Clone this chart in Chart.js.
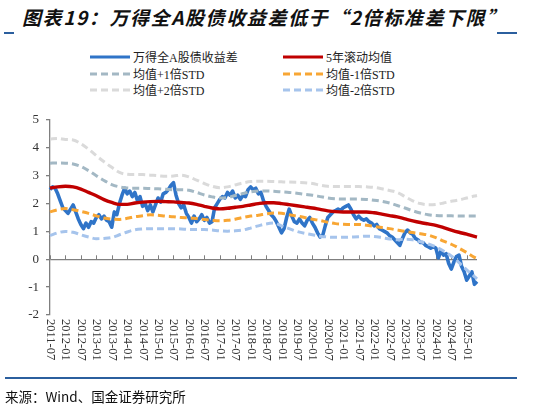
<!DOCTYPE html>
<html>
<head>
<meta charset="utf-8">
<script src="https://cdn.jsdelivr.net/npm/chart.js@4.4.1/dist/chart.umd.min.js"></script>
<style>
body { margin: 0; width: 547px; height: 410px; background: #fff; position: relative; overflow: hidden; }
#title { position: absolute; left: 22px; top: 3px; font: italic bold 19px "Noto Sans CJK SC"; letter-spacing: 1.6px; white-space: nowrap; color: #111; }
.bar { position: absolute; height: 2px; background: #2b5f9e; }
#legend { position: absolute; left: 90px; top: 49px; display: grid; grid-template-columns: 193px 200px; font: 12px "Liberation Serif", "Noto Sans CJK SC"; color: #222; }
.item { display: flex; align-items: center; height: 16.5px; white-space: nowrap; }
.item svg { margin-right: 3px; }
#source { position: absolute; left: 5px; top: 386px; font: 13.5px "Noto Sans CJK SC"; color: #111; white-space: nowrap; }
#wrap { position: absolute; left: 0; top: 0; width: 547px; height: 410px; }
</style>
</head>
<body>
<div id="title">图表19：万得全A股债收益差低于“2倍标准差下限”</div>
<div class="bar" style="left:4px;top:32px;width:10px"></div>
<div class="bar" style="left:497px;top:32px;width:20px"></div>
<div id="legend"></div>
<div id="wrap"><canvas id="chart" width="547" height="410"></canvas></div>
<div class="bar" style="left:5px;top:377px;width:512px"></div>
<div id="source">来源：Wind、国金证券研究所</div>

<script>
// months 2011-07 .. 2025-05
const months = [];
for (let y = 2011, m = 7; y < 2025 || m <= 5; m++) {
    if (m > 12) { m = 1; y++; }
    months.push(y + '-' + String(m).padStart(2, '0'));
}

const tickLabels = ['2011-07','2012-01','2012-07','2013-01','2013-07','2014-01','2014-07','2015-01','2015-07',
    '2016-01','2016-07','2017-01','2017-07','2018-01','2018-07','2019-01','2019-07','2020-01','2020-07',
    '2021-01','2021-07','2022-01','2022-07','2023-01','2023-07','2024-01','2024-07','2025-01'];

// 万得全A股债收益差, monthly
const spread = [
    2.5, 2.6, 2.55, 2.35, 2.1, 1.85,
    1.75, 1.65, 1.8, 1.95, 1.7, 1.45, 1.25, 1.1, 1.3, 1.15, 1.35, 1.3,
    1.5, 1.6, 1.45, 1.55, 1.4, 1.35, 1.15, 1.7, 1.6, 2.0, 2.3, 2.55,
    2.35, 2.45, 2.25, 2.4, 2.1, 2.25, 1.9, 2.0, 1.75, 1.95, 1.7, 1.95,
    2.2, 2.05, 2.35, 2.4, 2.5, 2.65, 2.75, 2.3, 2.0, 1.85, 1.95, 1.65,
    1.5, 1.3, 1.55, 1.35, 1.45, 1.6, 1.4, 1.5, 1.3, 1.35, 1.85, 2.0,
    2.15, 2.25, 2.2, 2.4, 2.3, 2.45, 2.2, 2.3, 2.15, 2.3, 2.25, 2.5,
    2.6, 2.5, 2.55, 2.35, 2.4, 2.1, 1.9, 1.75, 1.6, 1.5, 1.35, 1.15,
    0.95, 1.1, 1.5, 1.8, 1.55, 1.35, 1.3, 1.45, 1.3, 1.2, 1.4, 1.5,
    1.3, 1.15, 0.95, 0.8, 0.85, 1.2, 1.5, 1.6, 1.7, 1.75, 1.8, 1.75,
    1.85, 1.9, 1.95, 1.8, 1.6, 1.45, 1.55, 1.45, 1.4, 1.45, 1.35, 1.3,
    1.2, 1.25, 1.1, 1.05, 1.0, 0.95, 0.85, 0.8, 0.7, 0.6, 0.5, 0.75,
    0.95, 1.05, 0.95, 0.9, 0.75, 0.7, 0.6, 0.6, 0.5, 0.45, 0.4, 0.45,
    0.4, 0.05, 0.3, 0.15, 0.2, -0.15, -0.35, -0.1, 0.1, 0.15, -0.25, -0.45,
    -0.75, -0.6, -0.45, -0.9, -0.8
];

// bands, every 3rd month from 2011-07, last value = 2025-05
const mean5y = [2.56, 2.6, 2.62, 2.6, 2.52, 2.4, 2.28, 2.14, 2.04, 1.97, 1.97, 2.02, 2.05, 2.07, 2.08, 2.07, 2.06, 2.04, 2.02, 1.97,
    1.9, 1.84, 1.81, 1.83, 1.87, 1.9, 1.95, 2.0, 2.03, 2.03, 2.0, 1.96, 1.92, 1.88, 1.84, 1.79, 1.74, 1.71, 1.7, 1.7,
    1.7, 1.7, 1.67, 1.62, 1.57, 1.52, 1.45, 1.38, 1.32, 1.27, 1.22, 1.14, 1.05, 0.97, 0.9, 0.82, 0.8];
const plus1 = [3.45, 3.46, 3.45, 3.42, 3.33, 3.18, 3.0, 2.83, 2.68, 2.6, 2.56, 2.55, 2.55, 2.54, 2.53, 2.51, 2.5, 2.5, 2.48, 2.4,
    2.31, 2.24, 2.2, 2.22, 2.29, 2.36, 2.42, 2.45, 2.45, 2.44, 2.42, 2.4, 2.37, 2.33, 2.3, 2.25, 2.2, 2.17, 2.16, 2.16,
    2.16, 2.15, 2.12, 2.08, 2.02, 1.93, 1.84, 1.74, 1.66, 1.6, 1.57, 1.56, 1.56, 1.55, 1.55, 1.55, 1.55];
const minus1 = [1.7, 1.78, 1.82, 1.78, 1.72, 1.65, 1.56, 1.48, 1.44, 1.43, 1.47, 1.53, 1.56, 1.6, 1.58, 1.55, 1.53, 1.5, 1.49, 1.46,
    1.43, 1.4, 1.38, 1.4, 1.44, 1.5, 1.55, 1.58, 1.63, 1.66, 1.65, 1.6, 1.55, 1.5, 1.44, 1.39, 1.33, 1.28, 1.26, 1.25,
    1.25, 1.22, 1.18, 1.14, 1.1, 1.05, 1.0, 0.96, 0.92, 0.87, 0.78, 0.65, 0.54, 0.4, 0.24, 0.07, 0.03];
const plus2 = [4.32, 4.34, 4.3, 4.28, 4.15, 3.95, 3.72, 3.5, 3.3, 3.12, 3.05, 3.04, 3.04, 3.02, 3.0, 2.98, 2.99, 3.02, 2.96, 2.84,
    2.72, 2.62, 2.57, 2.6, 2.67, 2.74, 2.79, 2.8, 2.8, 2.79, 2.78, 2.77, 2.76, 2.75, 2.72, 2.66, 2.62, 2.61, 2.61, 2.61,
    2.61, 2.6, 2.58, 2.53, 2.47, 2.4, 2.25, 2.1, 2.0, 1.96, 1.97, 2.02, 2.08, 2.13, 2.2, 2.27, 2.29];
const minus2 = [0.85, 0.95, 1.0, 0.97, 0.88, 0.8, 0.74, 0.75, 0.78, 0.88, 0.98, 1.06, 1.09, 1.1, 1.1, 1.1, 1.1, 1.09, 1.07, 1.07,
    1.07, 1.05, 1.02, 1.01, 1.02, 1.05, 1.12, 1.2, 1.27, 1.3, 1.2, 1.1, 1.0, 0.93, 0.88, 0.83, 0.8, 0.79, 0.79, 0.8,
    0.81, 0.83, 0.82, 0.78, 0.73, 0.7, 0.72, 0.7, 0.63, 0.55, 0.45, 0.3, 0.12, -0.12, -0.38, -0.62, -0.7];

// put the quarterly points on the monthly axis, gaps get spanned
function onMonths(q) {
    return months.map((_, i) => {
        if (i === months.length - 1) return q[q.length - 1];
        return i % 3 === 0 ? q[i / 3] : null;
    });
}

const series = [
    { label: '万得全A股债收益差', data: spread, color: '#2f74c8', dash: [], width: 3.6, order: 9 },
    { label: '5年滚动均值', data: onMonths(mean5y), color: '#c00000', dash: [], width: 3.4, order: 1 },
    { label: '均值+1倍STD', data: onMonths(plus1), color: '#a3b8c4', dash: [7, 4], width: 3, order: 2 },
    { label: '均值-1倍STD', data: onMonths(minus1), color: '#f8a634', dash: [7, 4], width: 3, order: 2 },
    { label: '均值+2倍STD', data: onMonths(plus2), color: '#dadada', dash: [7, 4], width: 3, order: 3 },
    { label: '均值-2倍STD', data: onMonths(minus2), color: '#a6c4ec', dash: [7, 4], width: 3, order: 2 }
];

// legend, two columns
const legend = document.getElementById('legend');
legend.innerHTML = series.map(s => `
    <div class="item">
        <svg width="40" height="6"><line x1="0" y1="3" x2="40" y2="3" stroke="${s.color}" stroke-width="3"
            stroke-dasharray="${s.dash.join(' ')}"/></svg>${s.label}
    </div>`).join('');

// x tick marks on the zero line + rotated date labels under the plot
const dateAxis = {
    id: 'dateAxis',
    beforeDatasetsDraw(chart) {
        const { ctx, scales: { x, y } } = chart;
        const y0 = y.getPixelForValue(0);
        const yb = y.getPixelForValue(-2);
        ctx.save();
        ctx.strokeStyle = '#7f7f7f';
        ctx.lineWidth = 1;
        ctx.fillStyle = '#333';
        ctx.font = '12.5px "Liberation Serif"';
        tickLabels.forEach(lbl => {
            const px = Math.round(x.getPixelForValue(months.indexOf(lbl))) + 0.5;
            ctx.beginPath();
            ctx.moveTo(px, y0);
            ctx.lineTo(px, y0 - 4);
            ctx.stroke();
            ctx.save();
            ctx.translate(px, yb + 4);
            ctx.rotate(Math.PI / 2);
            ctx.textAlign = 'left';
            ctx.textBaseline = 'middle';
            ctx.fillText(lbl, 0, 0);
            ctx.restore();
        });
        ctx.restore();
    }
};

new Chart(document.getElementById('chart'), {
    type: 'line',
    data: {
        labels: months,
        datasets: series.map(s => ({
            label: s.label,
            data: s.data,
            borderColor: s.color,
            borderWidth: s.width,
            borderDash: s.dash,
            order: s.order,
            spanGaps: true,
            pointRadius: 0,
            cubicInterpolationMode: s.dash.length || s.order === 1 ? 'monotone' : 'default',
            tension: 0,
            borderJoinStyle: 'round',
            fill: false
        }))
    },
    options: {
        responsive: false,
        animation: false,
        devicePixelRatio: 1,
        layout: { padding: { left: 0, top: 120, right: 70, bottom: 95 } },
        plugins: { legend: { display: false }, tooltip: { enabled: false } },
        scales: {
            x: { display: false },
            y: {
                min: -2, max: 5,
                ticks: { stepSize: 1, color: '#333', padding: 7, font: { family: 'Liberation Serif', size: 13 } },
                grid: {
                    color: c => c.tick.value === 0 ? '#7f7f7f' : 'rgba(0,0,0,0)',
                    lineWidth: 1.3,
                    tickLength: 4,
                    tickColor: '#7f7f7f'
                },
                border: { color: '#7f7f7f', width: 1.3 },
                afterFit(scale) { scale.width = 50; }
            }
        }
    },
    plugins: [dateAxis]
});
</script>
</body>
</html>
